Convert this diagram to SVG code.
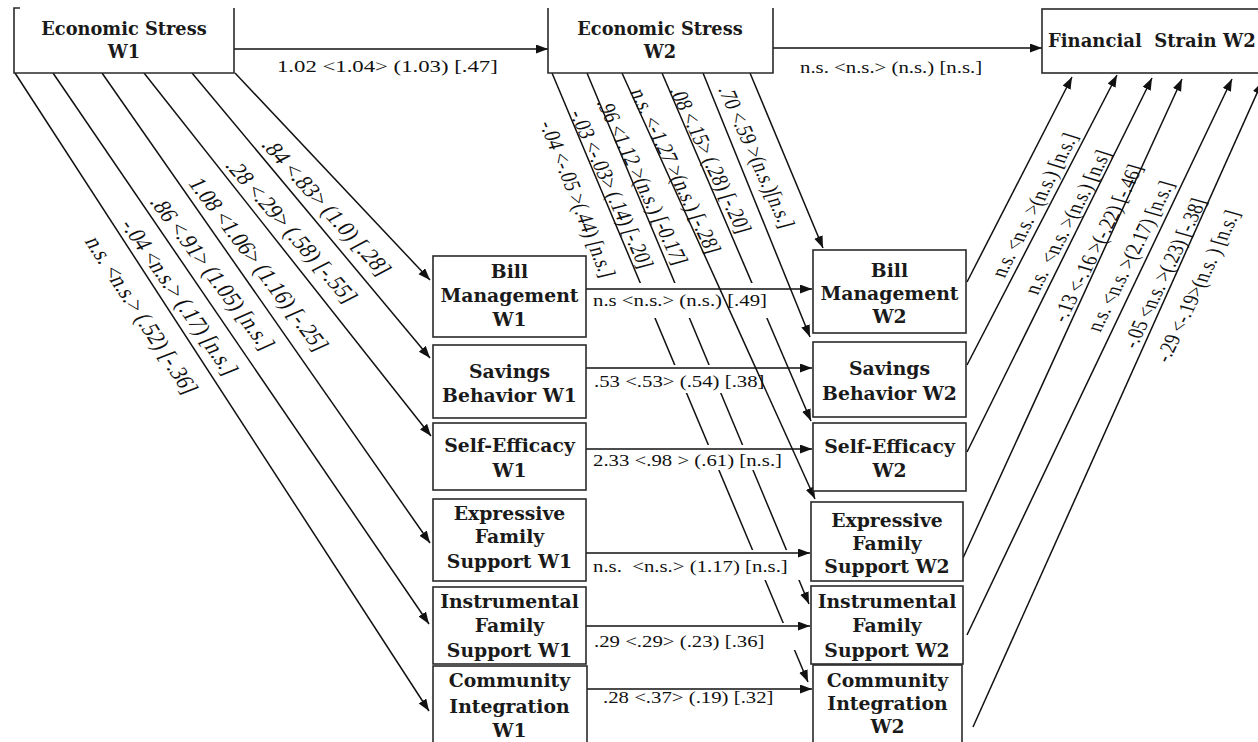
<svg xmlns="http://www.w3.org/2000/svg" width="1258" height="742" viewBox="0 0 1258 742">
<style>
.box{fill:#fff;stroke:#2a2a2a;stroke-width:1.6}
.bt{font-family:"DejaVu Serif","Liberation Serif",serif;font-weight:bold;font-size:18.8px;text-anchor:middle;fill:#1a1a1a}
.tb{font-size:17.8px}
.fs{font-size:18px;text-anchor:start}
.ln{stroke:#111;stroke-width:1.5;fill:none}
.ar{marker-end:url(#ah)}
.lb{font-family:"Liberation Serif","Times New Roman",serif;fill:#111;white-space:pre}
.h{font-size:16.5px}
.dl{font-size:19.5px;text-anchor:middle}
.dm{font-size:18px;text-anchor:middle}
.dr{font-size:17.5px;text-anchor:middle}
.bg{fill:#fff;stroke:none}
</style>
<defs>
<marker id="ah" markerUnits="userSpaceOnUse" markerWidth="13" markerHeight="10" refX="12" refY="4.5" orient="auto">
<path d="M0,0 L12,4.5 L0,9 Z" fill="#111"/>
</marker>
</defs>
<rect width="1258" height="742" fill="#fff"/>
<g id="connectors">
<line class="ln ar" x1="662" y1="73" x2="811" y2="421"/>
<line class="ln ar" x1="587" y1="73" x2="809" y2="604"/>
<line class="ln ar" x1="552" y1="73" x2="808" y2="682"/>
<rect class="bg" x="588" y="283" width="184" height="35"/>
<rect class="bg" x="588" y="365" width="187" height="28"/>
<rect class="bg" x="588" y="445" width="200" height="25"/>
<rect class="bg" x="588" y="550" width="214" height="30"/>
<rect class="bg" x="588" y="623" width="210" height="27"/>
<rect class="bg" x="588" y="686" width="190" height="25"/>
<line class="ln ar" x1="750" y1="73" x2="823" y2="248"/>
<line class="ln ar" x1="703" y1="73" x2="810" y2="337"/>
<line class="ln ar" x1="622" y1="73" x2="815" y2="499"/>
<line class="ln ar" x1="235" y1="73" x2="430" y2="280"/>
<line class="ln ar" x1="192" y1="73" x2="430" y2="358"/>
<line class="ln ar" x1="144" y1="73" x2="431" y2="436"/>
<line class="ln ar" x1="102" y1="73" x2="430" y2="543"/>
<line class="ln ar" x1="53" y1="73" x2="429" y2="624"/>
<line class="ln ar" x1="15" y1="73" x2="429" y2="711"/>
<line class="ln ar" x1="967" y1="282" x2="1072" y2="77"/>
<line class="ln ar" x1="967" y1="365" x2="1117" y2="75"/>
<line class="ln ar" x1="967" y1="452" x2="1152" y2="78"/>
<line class="ln ar" x1="963" y1="558" x2="1182" y2="79"/>
<line class="ln ar" x1="967" y1="635" x2="1232" y2="79"/>
<line class="ln ar" x1="973" y1="727" x2="1262" y2="82"/>
<line class="ln ar" x1="234" y1="49" x2="548" y2="49"/>
<line class="ln ar" x1="773" y1="48" x2="1042" y2="48"/>
<line class="ln ar" x1="586" y1="289" x2="812" y2="289"/>
<line class="ln ar" x1="586" y1="368" x2="812" y2="368"/>
<line class="ln ar" x1="586" y1="449" x2="812" y2="449"/>
<line class="ln ar" x1="586" y1="553" x2="810" y2="553"/>
<line class="ln ar" x1="586" y1="626" x2="810" y2="626"/>
<line class="ln ar" x1="587" y1="689" x2="812" y2="689"/>
</g>
<g id="labels">
<text class="lb" font-size="17.5" transform="translate(277,72) scale(1.3,1)">1.02 &lt;1.04&gt; (1.03) [.47]</text>
<text class="lb h" transform="translate(800,73) scale(1.26,1)">n.s. &lt;n.s.&gt; (n.s.) [n.s.]</text>
<text class="lb h" transform="translate(593,306) scale(1.26,1)">n.s &lt;n.s.&gt; (n.s.) [.49]</text>
<text class="lb h" transform="translate(594,387) scale(1.26,1)">.53 &lt;.53&gt; (.54) [.38]</text>
<text class="lb h" transform="translate(593,466) scale(1.26,1)">2.33 &lt;.98 &gt; (.61) [n.s.]</text>
<text class="lb h" transform="translate(593,572) scale(1.26,1)" xml:space="preserve">n.s.  &lt;n.s.&gt; (1.17) [n.s.]</text>
<text class="lb h" transform="translate(594,647) scale(1.26,1)">.29 &lt;.29&gt; (.23) [.36]</text>
<text class="lb h" transform="translate(603,703) scale(1.26,1)">.28 &lt;.37&gt; (.19) [.32]</text>

<text class="lb dl" dy="0.35em" transform="translate(327,207) scale(1.3,1) rotate(55.3)">.84 &lt;.83&gt; (1.0) [.28]</text>
<text class="lb dl" dy="0.35em" transform="translate(292,231) scale(1.3,1) rotate(56.2)">.28 &lt;.29&gt; (.58) [-.55]</text>
<text class="lb dl" dy="0.35em" transform="translate(259,264) scale(1.3,1) rotate(59.9)">1.08 &lt;1.06&gt; (1.16) [-.25]</text>
<text class="lb dl" dy="0.35em" transform="translate(213,273) scale(1.3,1) rotate(59.9)">.86 &lt;.91&gt; (1.05) [n.s.]</text>
<text class="lb dl" dy="0.35em" transform="translate(180,297) scale(1.3,1) rotate(62.1)">-.04 &lt;n.s.&gt; (.17) [n.s.]</text>
<text class="lb dl" dy="0.35em" transform="translate(142,315) scale(1.3,1) rotate(63.5)">n.s. &lt;n.s.&gt; (.52) [-.36]</text>

<text class="lb dm" dy="0.35em" transform="translate(578,199) scale(1.3,1) rotate(73)">-.04 &lt;-.05 &gt;(.44) [n.s.]</text>
<text class="lb dm" dy="0.35em" transform="translate(612,189) scale(1.3,1) rotate(71)">-.03 &lt;-.03&gt; (.14) [-.20]</text>
<text class="lb dm" dy="0.35em" transform="translate(643,182) scale(1.3,1) rotate(70)">.96 &lt;1.12 &gt;(n.s.) [-0.17]</text>
<text class="lb dm" dy="0.35em" transform="translate(676,171) scale(1.3,1) rotate(70)">n.s. &lt;-1.27 &gt;(n.s.) [-.28]</text>
<text class="lb dm" dy="0.35em" transform="translate(711,160) scale(1.3,1) rotate(70)">.08 &lt;.15&gt; (.28) [-.20]</text>
<text class="lb dm" dy="0.35em" transform="translate(757,157) scale(1.3,1) rotate(71)">.70 &lt;.59 &gt;(n.s.)[n.s.]</text>

<text class="lb dr" dy="0.35em" transform="translate(1034,205) scale(1.3,1) rotate(-68.2)">n.s. &lt;n.s. &gt;(n.s.) [n.s.]</text>
<text class="lb dr" dy="0.35em" transform="translate(1067,222) scale(1.3,1) rotate(-68.2)" xml:space="preserve">n.s.  &lt;n.s. &gt;(n.s.) [n.s]</text>
<text class="lb dr" dy="0.35em" transform="translate(1097,243) scale(1.3,1) rotate(-69)">-.13 &lt;-.16 &gt;(-.22) [-.46]</text>
<text class="lb dr" dy="0.35em" transform="translate(1130,256) scale(1.3,1) rotate(-69)">n.s. &lt;n.s. &gt;(2.17) [n.s.]</text>
<text class="lb dr" dy="0.35em" transform="translate(1164,273) scale(1.3,1) rotate(-69.9)">-.05 &lt;n.s. &gt;(.23) [-.38]</text>
<text class="lb dr" dy="0.35em" transform="translate(1197,286) scale(1.3,1) rotate(-69.9)">-.29 &lt;-.19&gt;(n.s. ) [n.s.]</text>
</g>

<g id="es-w1">
<path class="box" d="M20,8 H14 V73 H234 V8"/>
<text class="bt tb" x="124" y="35">Economic Stress</text>
<text class="bt tb" x="124" y="58">W1</text>
</g>
<g id="es-w2">
<path class="box" d="M548,8 V73 H773 V8"/>
<text class="bt tb" x="660" y="35">Economic Stress</text>
<text class="bt tb" x="660" y="58">W2</text>
</g>
<g id="fs-w2">
<rect class="box" x="1042" y="9" width="230" height="64"/>
<text class="bt fs" x="1048" y="47" xml:space="preserve">Financial  Strain W2</text>
</g>

<g id="bill-w1">
<rect class="box" x="433" y="256" width="153" height="81"/>
<text class="bt" x="509.5" y="278">Bill</text>
<text class="bt" x="509.5" y="302">Management</text>
<text class="bt" x="509.5" y="326">W1</text>
</g>
<g id="savings-w1">
<rect class="box" x="433" y="345" width="153" height="73"/>
<text class="bt" x="509.5" y="378">Savings</text>
<text class="bt" x="509.5" y="402">Behavior W1</text>
</g>
<g id="selfeff-w1">
<rect class="box" x="433" y="423" width="153" height="67"/>
<text class="bt" x="509.5" y="452">Self-Efficacy</text>
<text class="bt" x="509.5" y="477">W1</text>
</g>
<g id="expressive-w1">
<rect class="box" x="433" y="499" width="153" height="82"/>
<text class="bt" x="509.5" y="520">Expressive</text>
<text class="bt" x="509.5" y="543">Family</text>
<text class="bt" x="509.5" y="568">Support W1</text>
</g>
<g id="instrumental-w1">
<rect class="box" x="433" y="587" width="153" height="77"/>
<text class="bt" x="509.5" y="608">Instrumental</text>
<text class="bt" x="509.5" y="632">Family</text>
<text class="bt" x="509.5" y="657">Support W1</text>
</g>
<g id="community-w1">
<rect class="box" x="433" y="666" width="154" height="90"/>
<text class="bt" x="509.5" y="687">Community</text>
<text class="bt" x="509.5" y="713">Integration</text>
<text class="bt" x="509.5" y="737">W1</text>
</g>

<g id="bill-w2">
<rect class="box" x="813" y="250" width="153" height="83"/>
<text class="bt" x="889.5" y="277">Bill</text>
<text class="bt" x="889.5" y="300">Management</text>
<text class="bt" x="889.5" y="323">W2</text>
</g>
<g id="savings-w2">
<rect class="box" x="813" y="342" width="153" height="75"/>
<text class="bt" x="889.5" y="375">Savings</text>
<text class="bt" x="889.5" y="400">Behavior W2</text>
</g>
<g id="selfeff-w2">
<rect class="box" x="813" y="423" width="153" height="68"/>
<text class="bt" x="889.5" y="453">Self-Efficacy</text>
<text class="bt" x="889.5" y="477">W2</text>
</g>
<g id="expressive-w2">
<rect class="box" x="811" y="502" width="152" height="79"/>
<text class="bt" x="887" y="527">Expressive</text>
<text class="bt" x="887" y="550">Family</text>
<text class="bt" x="887" y="573">Support W2</text>
</g>
<g id="instrumental-w2">
<rect class="box" x="811" y="586" width="152" height="78"/>
<text class="bt" x="887" y="608">Instrumental</text>
<text class="bt" x="887" y="632">Family</text>
<text class="bt" x="887" y="657">Support W2</text>
</g>
<g id="community-w2">
<rect class="box" x="813" y="665" width="149" height="90"/>
<text class="bt" x="887.5" y="687">Community</text>
<text class="bt" x="887.5" y="710">Integration</text>
<text class="bt" x="887.5" y="733">W2</text>
</g>
</svg>
